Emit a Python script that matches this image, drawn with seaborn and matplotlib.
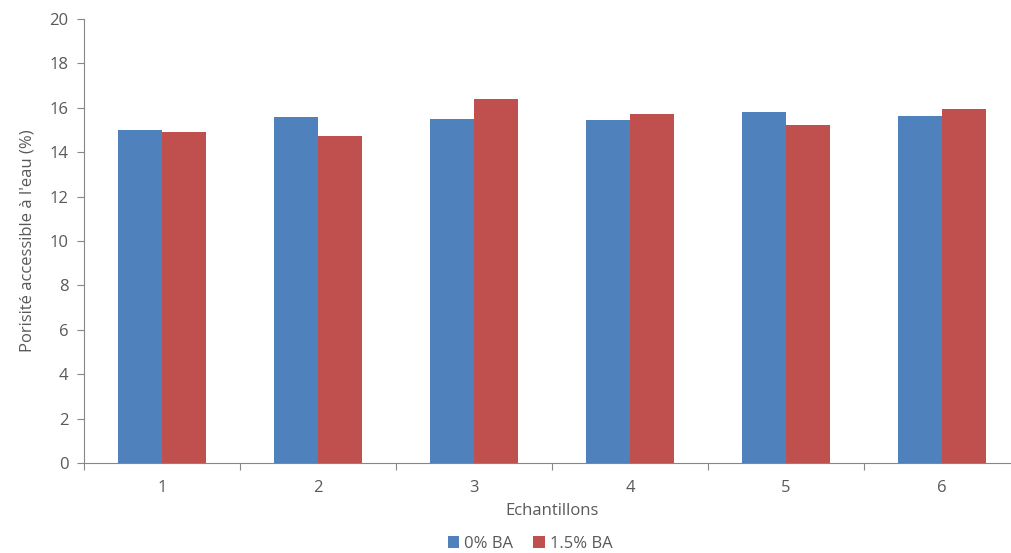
import numpy as np
import pandas as pd
import seaborn as sns
import matplotlib.pyplot as plt

# Data
echantillons = ["1", "2", "3", "4", "5", "6"]
ba_0 = [15.0, 15.6, 15.48, 15.45, 15.8, 15.63]
ba_15 = [14.89, 14.71, 16.41, 15.72, 15.24, 15.93]
series_names = ["0% BA", "1.5% BA"]

df = pd.DataFrame({
    "Echantillons": echantillons * 2,
    "value": ba_0 + ba_15,
    "serie": [series_names[0]] * 6 + [series_names[1]] * 6,
})

sns.set_theme(style="white")
plt.rcParams["font.family"] = ["Open Sans", "DejaVu Sans"]
text_color = "#595959"
axis_color = "#868686"

fig = plt.figure(figsize=(10.11, 5.53), dpi=100)
ax = fig.add_axes([84 / 1011, (553 - 463) / 553, 936 / 1011, 444 / 553])

sns.barplot(data=df, x="Echantillons", y="value", hue="serie",
            palette=["#4F81BD", "#C0504D"], width=0.564, gap=0,
            saturation=1, linewidth=0, ax=ax, legend=True)

ax.set_ylim(0, 20)
ax.set_xlim(-0.5, 5.5)
ax.set_yticks(np.arange(0, 21, 2))
ax.set_xticks(np.arange(-0.5, 6, 1), minor=True)
ax.tick_params(axis="x", which="major", length=0, pad=12,
               labelsize=12, labelcolor=text_color)
ax.tick_params(axis="x", which="minor", length=5, width=0.8,
               color=axis_color, direction="out", bottom=True)
ax.tick_params(axis="y", length=5, width=0.8, color=axis_color,
               direction="out", left=True, labelsize=12,
               labelcolor=text_color, pad=6)

for side in ["top", "right"]:
    ax.spines[side].set_visible(False)
for side in ["left", "bottom"]:
    ax.spines[side].set_color(axis_color)
    ax.spines[side].set_linewidth(0.8)

ax.set_xlabel("Echantillons", fontsize=12, color=text_color, labelpad=5)
ax.set_ylabel("Porisité accessible à l'eau (%)", fontsize=12,
              color=text_color, labelpad=10)

ax.legend(loc="center", bbox_to_anchor=(446 / 936, -81 / 444),
          ncol=2, frameon=False, fontsize=12, labelcolor=text_color,
          handlelength=0.7, handleheight=0.7, handletextpad=0.3,
          columnspacing=1.2, borderpad=0)

fig.savefig("out.png", dpi=100)
